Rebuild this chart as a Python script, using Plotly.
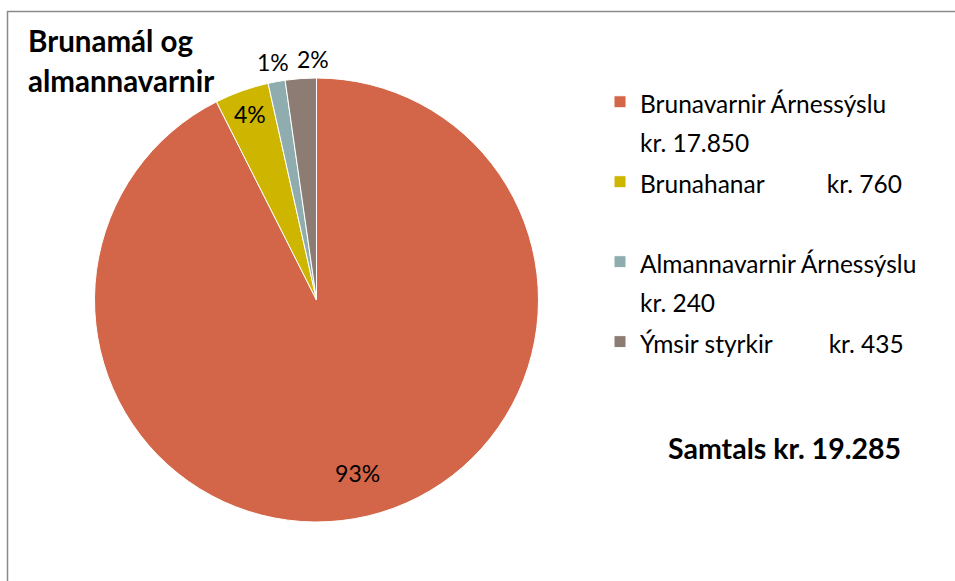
import math
import plotly.graph_objects as go

W, H = 955, 581

labels = ["Brunavarnir Árnessýslu", "Brunahanar", "Almannavarnir Árnessýslu", "Ýmsir styrkir"]
values = [17850, 760, 240, 435]
amount_text = ["kr. 17.850", "kr. 760", "kr. 240", "kr. 435"]
colors = ["#D36549", "#CEB500", "#8FADAF", "#8C7C73"]
total_text = "Samtals kr. 19.285"
title_lines = ["Brunamál og", "almannavarnir"]

FONT = "Lato"


def span(txt, size):
    return "<span style='font-size:%spx'>%s</span>" % (size, txt)


NB = "&nbsp;"
LS = 24.5  # visible legend text size

legend_names = [
    span(labels[0], LS) + "<br>" + span(amount_text[0], LS),
    span(labels[1] + NB * 10 + amount_text[1], LS) + "<br>" + NB,
    span(labels[2], LS) + "<br>" + span(amount_text[2], LS),
    span(labels[3] + NB * 9 + amount_text[3], LS) + "<br>" + NB,
]

# pie placement (pixels of the 955x581 page)
PIE_L, PIE_R, PIE_T, PIE_B = 94, 539, 78, 522
domain = dict(x=[PIE_L / W, PIE_R / W], y=[1 - PIE_B / H, 1 - PIE_T / H])
pct_font = dict(family=FONT, size=23, color="black")

total = sum(values)
fractions = [v / total for v in values]
pct_text = ["%d%%" % round(f * 100) for f in fractions]

# which percentage sits where (like the original chart)
inside_small = [False, True, False, False]   # drawn inside the full pie
inside_ring = [True, False, False, False]    # drawn inside, towards the rim
outside = [False, False, True, True]         # drawn just outside the rim

fig = go.Figure()
fig.add_trace(
    go.Pie(
        labels=legend_names,
        values=values,
        sort=False,
        direction="clockwise",
        rotation=0,
        marker=dict(colors=colors, line=dict(color="white", width=1)),
        text=pct_text,
        texttemplate=["%{text}" if s else "" for s in inside_small],
        textposition=["inside" if s else "none" for s in inside_small],
        insidetextorientation="horizontal",
        textfont=pct_font,
        hoverinfo="label+value+percent",
        domain=domain,
        showlegend=True,
    )
)
# transparent ring over the same data: puts the large slice's label nearer the rim
fig.add_trace(
    go.Pie(
        labels=legend_names,
        values=values,
        sort=False,
        direction="clockwise",
        rotation=0,
        hole=0.6,
        marker=dict(colors=["rgba(0,0,0,0)"] * len(values), line=dict(width=0)),
        text=pct_text,
        texttemplate=["%{text}" if s else "" for s in inside_ring],
        textposition=["inside" if s else "none" for s in inside_ring],
        insidetextorientation="horizontal",
        textfont=pct_font,
        hoverinfo="skip",
        domain=domain,
        showlegend=False,
    )
)

# outside labels for the thin slices, placed from the slice angles
cx = (PIE_L + PIE_R) / 2
cy = (PIE_T + PIE_B) / 2
radius = min(PIE_R - PIE_L, PIE_B - PIE_T) / 2
label_r = radius + 20
min_gap = 40
annotations = []
cum = 0.0
prev_x = None
for i, f in enumerate(fractions):
    mid = (cum + f / 2) * 2 * math.pi
    cum += f
    if not outside[i]:
        continue
    px = cx + label_r * math.sin(mid)
    py = cy - label_r * math.cos(mid)
    if prev_x is not None and px - prev_x < min_gap:
        px = prev_x + min_gap
    prev_x = px
    annotations.append(
        dict(text=pct_text[i], xref="paper", yref="paper", x=px / W, y=1 - py / H,
             xanchor="center", yanchor="middle", showarrow=False, font=pct_font)
    )

annotations += [
    dict(
        text="<b>" + span(title_lines[0], 29.5) + "<br>" + span(title_lines[1], 29.5) + "</b>",
        xref="paper", yref="paper",
        x=26 / W, y=1 - 21 / H,
        xanchor="left", yanchor="top", align="left",
        showarrow=False,
        font=dict(family=FONT, size=31, color="black"),
    ),
    dict(
        text="<b>" + total_text + "</b>",
        xref="paper", yref="paper",
        x=784 / W, y=1 - 448 / H,
        xanchor="center", yanchor="middle",
        showarrow=False,
        font=dict(family=FONT, size=28.5, color="black"),
    ),
]

fig.update_layout(
    width=W,
    height=H,
    margin=dict(l=0, r=0, t=0, b=0),
    paper_bgcolor="white",
    plot_bgcolor="white",
    font=dict(family=FONT, color="black"),
    legend=dict(
        x=600 / W,
        y=1 - 76 / H,
        xanchor="left",
        yanchor="top",
        valign="top",
        font=dict(family=FONT, size=29.6, color="black"),
        bgcolor="rgba(0,0,0,0)",
    ),
    annotations=annotations,
    shapes=[
        dict(type="line", xref="paper", yref="paper", x0=7 / W, x1=1, y0=1 - 11.5 / H, y1=1 - 11.5 / H,
             line=dict(color="#8A8A8A", width=1.5)),
        dict(type="line", xref="paper", yref="paper", x0=7.5 / W, x1=7.5 / W, y0=0, y1=1 - 11 / H,
             line=dict(color="#8A8A8A", width=1.5)),
    ],
)

fig.write_html("out.html", config={"displayModeBar": False},
               post_script="document.body.style.margin='0';")
